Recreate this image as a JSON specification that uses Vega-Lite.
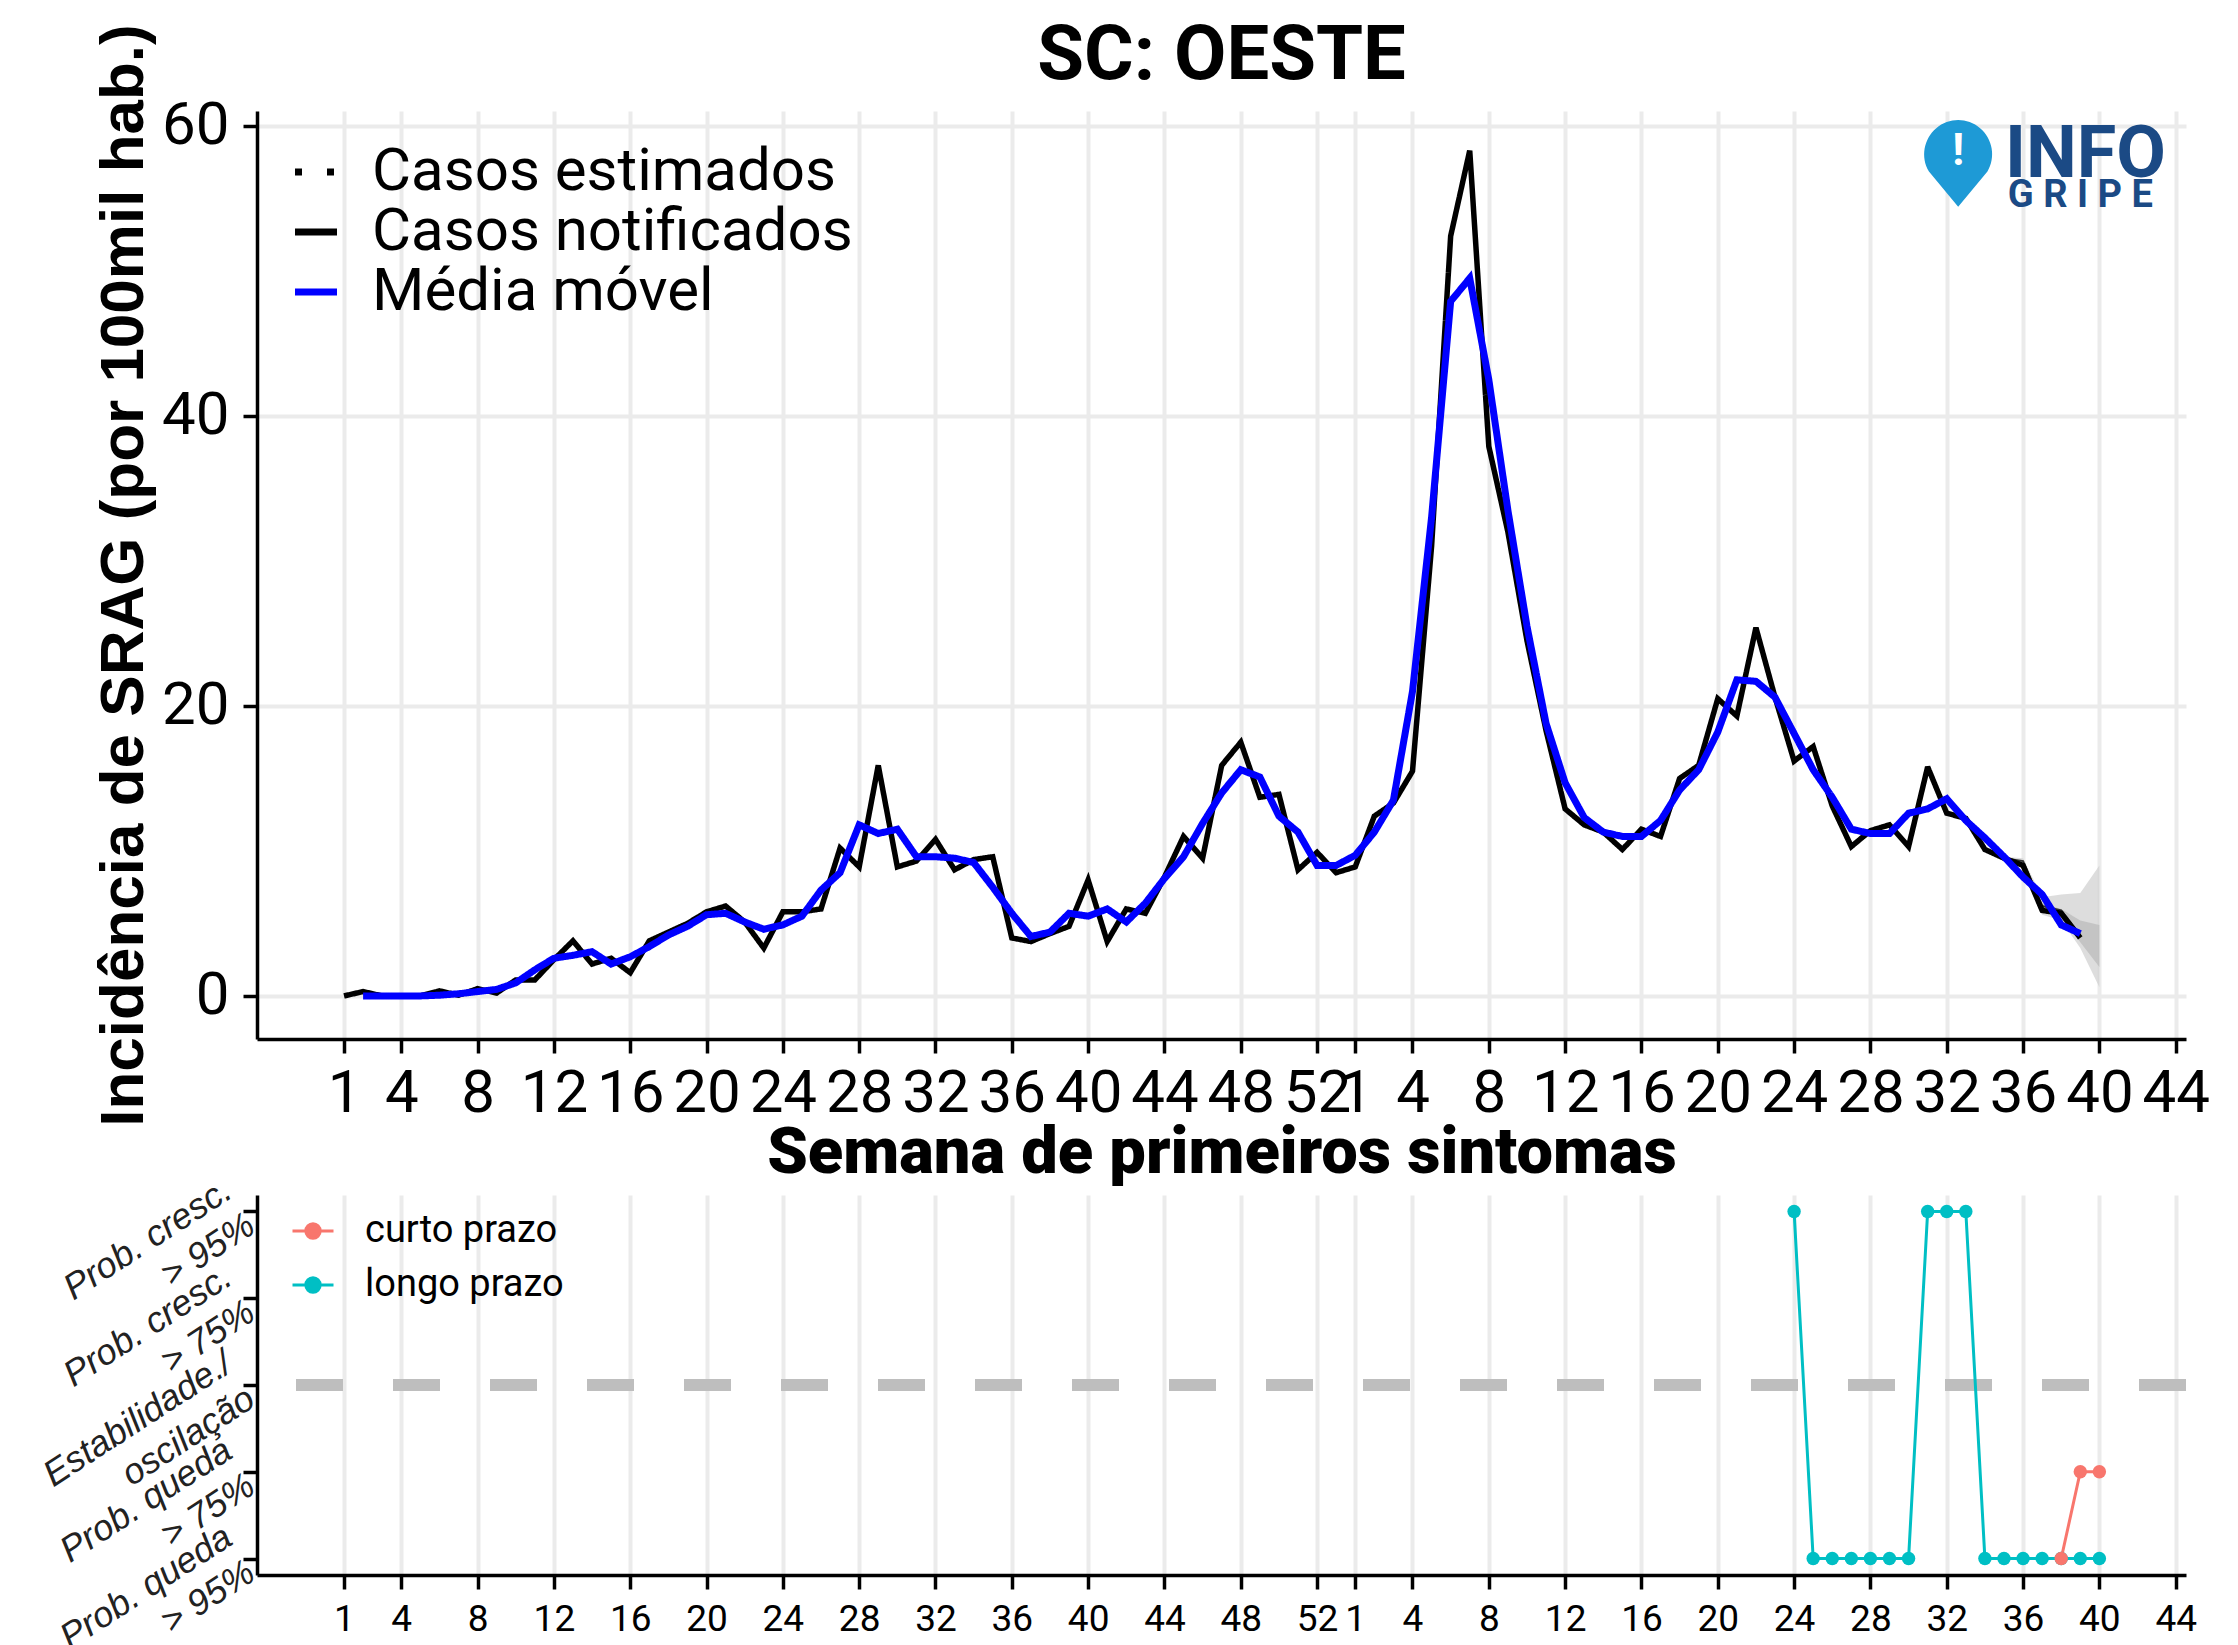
{
  "$schema": "https://vega.github.io/schema/vega-lite/v6.json",
  "background": "white",
  "autosize": {"type": "pad"},
  "padding": {"left": 36, "top": 18, "right": 0, "bottom": 0},
  "config": {
    "view": {"stroke": null},
    "font": "Roboto",
    "axis": {
      "domainColor": "black", "domainWidth": 3.5,
      "tickColor": "black", "tickWidth": 3.5, "tickSize": 14,
      "gridColor": "#EBEBEB", "gridWidth": 4,
      "labelColor": "black", "labelFont": "Roboto", "labelOverlap": false, "labelLimit": 0,
      "titleColor": "black", "titleLimit": 0
    },
    "legend": {"labelLimit": 0}
  },
  "datasets": {
    "main": [
      {"t":1,"not":0,"mm":null},{"t":2,"not":0.3,"mm":0},{"t":3,"not":0,"mm":0},{"t":4,"not":0,"mm":0},
      {"t":5,"not":0,"mm":0},{"t":6,"not":0.35,"mm":0.05},{"t":7,"not":0.05,"mm":0.15},{"t":8,"not":0.5,"mm":0.3},
      {"t":9,"not":0.2,"mm":0.45},{"t":10,"not":1.1,"mm":0.9},{"t":11,"not":1.1,"mm":1.8},{"t":12,"not":2.5,"mm":2.6},
      {"t":13,"not":3.8,"mm":2.8},{"t":14,"not":2.2,"mm":3.05},{"t":15,"not":2.6,"mm":2.2},{"t":16,"not":1.6,"mm":2.7},
      {"t":17,"not":3.8,"mm":3.4},{"t":18,"not":4.4,"mm":4.2},{"t":19,"not":5.0,"mm":4.8},{"t":20,"not":5.8,"mm":5.6},
      {"t":21,"not":6.2,"mm":5.7},{"t":22,"not":5.1,"mm":5.1},{"t":23,"not":3.3,"mm":4.6},{"t":24,"not":5.8,"mm":4.9},
      {"t":25,"not":5.8,"mm":5.5},{"t":26,"not":6.0,"mm":7.3},{"t":27,"not":10.2,"mm":8.5},{"t":28,"not":8.9,"mm":11.8},
      {"t":29,"not":15.9,"mm":11.2},{"t":30,"not":8.9,"mm":11.5},{"t":31,"not":9.3,"mm":9.6},{"t":32,"not":10.8,"mm":9.6},
      {"t":33,"not":8.7,"mm":9.5},{"t":34,"not":9.4,"mm":9.2},{"t":35,"not":9.6,"mm":7.5},{"t":36,"not":4.0,"mm":5.7},
      {"t":37,"not":3.75,"mm":4.1},{"t":38,"not":4.3,"mm":4.4},{"t":39,"not":4.8,"mm":5.7},{"t":40,"not":8.0,"mm":5.5},
      {"t":41,"not":3.75,"mm":6.0},{"t":42,"not":6.0,"mm":5.1},{"t":43,"not":5.7,"mm":6.4},{"t":44,"not":8.2,"mm":8.1},
      {"t":45,"not":11.0,"mm":9.6},{"t":46,"not":9.5,"mm":11.9},{"t":47,"not":15.9,"mm":14.0},{"t":48,"not":17.5,"mm":15.6},
      {"t":49,"not":13.7,"mm":15.1},{"t":50,"not":13.9,"mm":12.4},{"t":51,"not":8.7,"mm":11.3},{"t":52,"not":9.9,"mm":9.0},
      {"t":53,"not":8.5,"mm":9.0},{"t":54,"not":8.9,"mm":9.7},{"t":55,"not":12.4,"mm":11.3},{"t":56,"not":13.3,"mm":13.5},
      {"t":57,"not":15.5,"mm":21.0},{"t":58,"not":31.0,"mm":33.0},{"t":59,"not":52.4,"mm":47.9},{"t":60,"not":58.3,"mm":49.5},
      {"t":61,"not":37.9,"mm":42.5},{"t":62,"not":32.0,"mm":33.5},{"t":63,"not":24.5,"mm":25.5},{"t":64,"not":18.3,"mm":18.8},
      {"t":65,"not":12.9,"mm":14.7},{"t":66,"not":11.8,"mm":12.3},{"t":67,"not":11.3,"mm":11.3},{"t":68,"not":10.1,"mm":11.0},
      {"t":69,"not":11.5,"mm":11.0},{"t":70,"not":11.0,"mm":12.1},{"t":71,"not":15.0,"mm":14.2},{"t":72,"not":15.9,"mm":15.6},
      {"t":73,"not":20.5,"mm":18.2},{"t":74,"not":19.3,"mm":21.8},{"t":75,"not":25.4,"mm":21.7},{"t":76,"not":20.6,"mm":20.6},
      {"t":77,"not":16.2,"mm":18.1},{"t":78,"not":17.2,"mm":15.6},{"t":79,"not":13.1,"mm":13.7},{"t":80,"not":10.3,"mm":11.5},
      {"t":81,"not":11.4,"mm":11.2},{"t":82,"not":11.8,"mm":11.2},{"t":83,"not":10.3,"mm":12.6},{"t":84,"not":15.8,"mm":12.9},
      {"t":85,"not":12.6,"mm":13.6},{"t":86,"not":12.25,"mm":12.1},{"t":87,"not":10.1,"mm":10.9},{"t":88,"not":9.5,"mm":9.6},
      {"t":89,"not":9.0,"mm":8.2},{"t":90,"not":5.9,"mm":7.0},{"t":91,"not":5.7,"mm":4.9},{"t":92,"not":4.0,"mm":4.3}
    ],
    "est": [
      {"t":88,"est":9.5,"lo":9.4,"hi":9.6,"lo50":null,"hi50":null},
      {"t":89,"est":9.3,"lo":9.0,"hi":9.5,"lo50":null,"hi50":null},
      {"t":90,"est":6.2,"lo":5.6,"hi":6.8,"lo50":5.9,"hi50":6.4},
      {"t":91,"est":5.9,"lo":5.2,"hi":7.0,"lo50":5.4,"hi50":6.0},
      {"t":92,"est":4.2,"lo":3.3,"hi":7.1,"lo50":3.7,"hi50":5.2},
      {"t":93,"est":null,"lo":0.6,"hi":9.0,"lo50":2.0,"hi50":4.9}
    ],
    "prob": [
      {"t":77,"prazo":"longo prazo","nivel":2},{"t":78,"prazo":"longo prazo","nivel":-2},{"t":79,"prazo":"longo prazo","nivel":-2},
      {"t":80,"prazo":"longo prazo","nivel":-2},{"t":81,"prazo":"longo prazo","nivel":-2},{"t":82,"prazo":"longo prazo","nivel":-2},
      {"t":83,"prazo":"longo prazo","nivel":-2},{"t":84,"prazo":"longo prazo","nivel":2},{"t":85,"prazo":"longo prazo","nivel":2},
      {"t":86,"prazo":"longo prazo","nivel":2},{"t":87,"prazo":"longo prazo","nivel":-2},{"t":88,"prazo":"longo prazo","nivel":-2},
      {"t":89,"prazo":"longo prazo","nivel":-2},{"t":90,"prazo":"longo prazo","nivel":-2},{"t":91,"prazo":"longo prazo","nivel":-2},
      {"t":92,"prazo":"longo prazo","nivel":-2},{"t":93,"prazo":"longo prazo","nivel":-2},
      {"t":91,"prazo":"curto prazo","nivel":-2},{"t":92,"prazo":"curto prazo","nivel":-1},{"t":93,"prazo":"curto prazo","nivel":-1}
    ]
  },
  "bounds": "flush",
  "spacing": 156,
  "resolve": {
    "scale": {"y": "independent", "color": "independent", "strokeDash": "independent"},
    "legend": {"color": "independent", "strokeDash": "independent"}
  },
  "vconcat": [
    {
      "width": 1929,
      "height": 928,
      "title": {"text": "SC: OESTE", "fontSize": 76, "font": "Roboto", "fontWeight": "bold", "anchor": "middle", "frame": "group", "color": "black", "offset": -71.5},
      "layer": [
        {
          "data": {"name": "est"},
          "mark": {"type": "area", "color": "#D2D2D2", "opacity": 0.75},
          "encoding": {
            "x": {"field": "t", "type": "quantitative", "scale": {"domain": [-3.56, 97.54], "nice": false, "zero": false},
                  "axis": {"values": [1,4,8,12,16,20,24,28,32,36,40,44,48,52,54,57,61,65,69,73,77,81,85,89,93,97],
                           "labelExpr": "datum.value > 53 ? datum.value - 53 : datum.value", "labelFontSize": 60, "labelPadding": 11,
                           "title": "Semana de primeiros sintomas", "titleFont": "Roboto", "titleFontSize": 65, "titleFontWeight": 900, "titlePadding": -2}},
            "y": {"field": "lo", "type": "quantitative", "scale": {"domain": [-2.97, 61.03], "nice": false, "zero": false},
                  "axis": {"values": [0,20,40,60], "labelFontSize": 60, "labelPadding": 14,
                           "title": "Incidência de SRAG (por 100mil hab.)", "titleFont": "Liberation Sans", "titleFontSize": 62, "titleFontWeight": "bold", "titlePadding": 6}},
            "y2": {"field": "hi"}
          }
        },
        {
          "data": {"name": "est"},
          "mark": {"type": "area", "color": "#B4B4B4", "opacity": 0.6},
          "encoding": {
            "x": {"field": "t", "type": "quantitative", "scale": {"domain": [-3.56, 97.54], "nice": false, "zero": false},
                  "axis": {"values": [1,4,8,12,16,20,24,28,32,36,40,44,48,52,54,57,61,65,69,73,77,81,85,89,93,97],
                           "labelExpr": "datum.value > 53 ? datum.value - 53 : datum.value", "labelFontSize": 60, "labelPadding": 11,
                           "title": "Semana de primeiros sintomas", "titleFont": "Roboto", "titleFontSize": 65, "titleFontWeight": 900, "titlePadding": -2}},
            "y": {"field": "lo50", "type": "quantitative", "scale": {"domain": [-2.97, 61.03], "nice": false, "zero": false},
                  "axis": {"values": [0,20,40,60], "labelFontSize": 60, "labelPadding": 14,
                           "title": "Incidência de SRAG (por 100mil hab.)", "titleFont": "Liberation Sans", "titleFontSize": 62, "titleFontWeight": "bold", "titlePadding": 6}},
            "y2": {"field": "hi50"}
          }
        },
        {
          "data": {"name": "est"},
          "mark": {"type": "line", "color": "#333333", "strokeWidth": 2},
          "encoding": {
            "x": {"field": "t", "type": "quantitative", "scale": {"domain": [-3.56, 97.54], "nice": false, "zero": false},
                  "axis": {"values": [1,4,8,12,16,20,24,28,32,36,40,44,48,52,54,57,61,65,69,73,77,81,85,89,93,97],
                           "labelExpr": "datum.value > 53 ? datum.value - 53 : datum.value", "labelFontSize": 60, "labelPadding": 11,
                           "title": "Semana de primeiros sintomas", "titleFont": "Roboto", "titleFontSize": 65, "titleFontWeight": 900, "titlePadding": -2}},
            "y": {"field": "est", "type": "quantitative", "scale": {"domain": [-2.97, 61.03], "nice": false, "zero": false},
                  "axis": {"values": [0,20,40,60], "labelFontSize": 60, "labelPadding": 14,
                           "title": "Incidência de SRAG (por 100mil hab.)", "titleFont": "Liberation Sans", "titleFontSize": 62, "titleFontWeight": "bold", "titlePadding": 6}}
          }
        },
        {
          "data": {"name": "main"},
          "mark": {"type": "line", "strokeWidth": 5.5, "strokeJoin": "miter", "strokeMiterLimit": 3},
          "encoding": {
            "x": {"field": "t", "type": "quantitative", "scale": {"domain": [-3.56, 97.54], "nice": false, "zero": false},
                  "axis": {"values": [1,4,8,12,16,20,24,28,32,36,40,44,48,52,54,57,61,65,69,73,77,81,85,89,93,97],
                           "labelExpr": "datum.value > 53 ? datum.value - 53 : datum.value", "labelFontSize": 60, "labelPadding": 11,
                           "title": "Semana de primeiros sintomas", "titleFont": "Roboto", "titleFontSize": 65, "titleFontWeight": 900, "titlePadding": -2}},
            "y": {"field": "not", "type": "quantitative", "scale": {"domain": [-2.97, 61.03], "nice": false, "zero": false},
                  "axis": {"values": [0,20,40,60], "labelFontSize": 60, "labelPadding": 14,
                           "title": "Incidência de SRAG (por 100mil hab.)", "titleFont": "Liberation Sans", "titleFontSize": 62, "titleFontWeight": "bold", "titlePadding": 6}},
            "color": {
              "datum": "not", "type": "nominal",
              "scale": {"domain": ["est", "not", "mm"], "range": ["black", "black", "#0000FF"]},
              "legend": {
                "orient": "none", "legendX": 29, "legendY": 31, "title": null,
                "labelExpr": "datum.value == 'est' ? 'Casos estimados' : datum.value == 'not' ? 'Casos notificados' : 'Média móvel'",
                "labelFontSize": 60, "labelFont": "Roboto", "labelColor": "black",
                "symbolType": "stroke", "symbolSize": 1764, "symbolStrokeWidth": 7, "labelOffset": 26, "rowPadding": 0
              }
            },
            "strokeDash": {
              "datum": "not", "type": "nominal",
              "scale": {"domain": ["est", "not", "mm"], "range": [[7, 25], [1, 0], [1, 0]]},
              "legend": {
                "orient": "none", "legendX": 29, "legendY": 31, "title": null,
                "labelExpr": "datum.value == 'est' ? 'Casos estimados' : datum.value == 'not' ? 'Casos notificados' : 'Média móvel'",
                "labelFontSize": 60, "labelFont": "Roboto", "labelColor": "black",
                "symbolType": "stroke", "symbolSize": 1764, "symbolStrokeWidth": 7, "labelOffset": 26, "rowPadding": 0
              }
            }
          }
        },
        {
          "data": {"name": "main"},
          "mark": {"type": "line", "strokeWidth": 7, "strokeJoin": "miter", "strokeMiterLimit": 3},
          "encoding": {
            "x": {"field": "t", "type": "quantitative", "scale": {"domain": [-3.56, 97.54], "nice": false, "zero": false},
                  "axis": {"values": [1,4,8,12,16,20,24,28,32,36,40,44,48,52,54,57,61,65,69,73,77,81,85,89,93,97],
                           "labelExpr": "datum.value > 53 ? datum.value - 53 : datum.value", "labelFontSize": 60, "labelPadding": 11,
                           "title": "Semana de primeiros sintomas", "titleFont": "Roboto", "titleFontSize": 65, "titleFontWeight": 900, "titlePadding": -2}},
            "y": {"field": "mm", "type": "quantitative", "scale": {"domain": [-2.97, 61.03], "nice": false, "zero": false},
                  "axis": {"values": [0,20,40,60], "labelFontSize": 60, "labelPadding": 14,
                           "title": "Incidência de SRAG (por 100mil hab.)", "titleFont": "Liberation Sans", "titleFontSize": 62, "titleFontWeight": "bold", "titlePadding": 6}},
            "color": {
              "datum": "mm", "type": "nominal",
              "scale": {"domain": ["est", "not", "mm"], "range": ["black", "black", "#0000FF"]},
              "legend": {
                "orient": "none", "legendX": 29, "legendY": 31, "title": null,
                "labelExpr": "datum.value == 'est' ? 'Casos estimados' : datum.value == 'not' ? 'Casos notificados' : 'Média móvel'",
                "labelFontSize": 60, "labelFont": "Roboto", "labelColor": "black",
                "symbolType": "stroke", "symbolSize": 1764, "symbolStrokeWidth": 7, "labelOffset": 26, "rowPadding": 0
              }
            },
            "strokeDash": {
              "datum": "mm", "type": "nominal",
              "scale": {"domain": ["est", "not", "mm"], "range": [[7, 25], [1, 0], [1, 0]]},
              "legend": {
                "orient": "none", "legendX": 29, "legendY": 31, "title": null,
                "labelExpr": "datum.value == 'est' ? 'Casos estimados' : datum.value == 'not' ? 'Casos notificados' : 'Média móvel'",
                "labelFontSize": 60, "labelFont": "Roboto", "labelColor": "black",
                "symbolType": "stroke", "symbolSize": 1764, "symbolStrokeWidth": 7, "labelOffset": 26, "rowPadding": 0
              }
            }
          }
        },
        {
          "data": {"values": [{"k": 1}]},
          "mark": {"type": "point", "shape": "M0,1L-0.68,0.18A0.79,0.79,0,1,1,0.68,0.18Z", "filled": true, "color": "#1E9AD6", "opacity": 1, "size": 7400},
          "encoding": {"x": {"datum": 85.6, "type": "quantitative"}, "y": {"datum": 57.4, "type": "quantitative"}}
        },
        {
          "data": {"values": [{"k": 1}]},
          "mark": {"type": "text", "text": "!", "color": "white", "fontSize": 44, "fontWeight": "bold", "font": "Roboto", "baseline": "middle", "align": "center"},
          "encoding": {"x": {"datum": 85.6, "type": "quantitative"}, "y": {"datum": 58.2, "type": "quantitative"}}
        },
        {
          "data": {"values": [{"k": 1}]},
          "mark": {"type": "text", "text": "INFO", "color": "#1B4A85", "fontSize": 72, "fontWeight": "bold", "font": "Roboto", "baseline": "alphabetic", "align": "left"},
          "encoding": {"x": {"datum": 88.05, "type": "quantitative"}, "y": {"datum": 56.5, "type": "quantitative"}}
        },
        {
          "data": {"values": [{"k": 1}]},
          "mark": {"type": "text", "text": "G R I P E", "color": "#1B4A85", "fontSize": 38, "fontWeight": "bold", "font": "Roboto", "baseline": "alphabetic", "align": "left"},
          "encoding": {"x": {"datum": 88.2, "type": "quantitative"}, "y": {"datum": 54.4, "type": "quantitative"}}
        }
      ]
    },
    {
      "width": 1929,
      "height": 380,
      "layer": [
        {
          "data": {"values": [{"k": 1}]},
          "mark": {"type": "rule", "color": "#BEBEBE", "strokeWidth": 12, "strokeDash": [47, 50]},
          "encoding": {"y": {"datum": 0, "type": "quantitative", "scale": {"domain": [-2.19, 2.19], "nice": false, "zero": false}}}
        },
        {
          "data": {"name": "prob"},
          "mark": {"type": "line", "strokeWidth": 3, "point": {"filled": true, "size": 180}},
          "encoding": {
            "x": {
              "field": "t", "type": "quantitative",
              "scale": {"domain": [-3.56, 97.54], "nice": false, "zero": false},
              "axis": {
                "values": [1,4,8,12,16,20,24,28,32,36,40,44,48,52,54,57,61,65,69,73,77,81,85,89,93,97],
                "labelExpr": "datum.value > 53 ? datum.value - 53 : datum.value",
                "labelFontSize": 37, "labelPadding": 12, "title": null
              }
            },
            "y": {
              "field": "nivel", "type": "quantitative",
              "scale": {"domain": [-2.19, 2.19], "nice": false, "zero": false},
              "axis": {
                "values": [-2, -1, 0, 1, 2],
                "labelExpr": "datum.value == 2 ? ['Prob. cresc.', '> 95%'] : datum.value == 1 ? ['Prob. cresc.', '> 75%'] : datum.value == 0 ? ['Estabilidade./', 'oscilação'] : datum.value == -1 ? ['Prob. queda', '> 75%'] : ['Prob. queda', '> 95%']",
                "labelAngle": -33, "labelAlign": "right", "labelBaseline": "middle",
                "labelFont": "Liberation Sans", "labelFontStyle": "italic", "labelFontSize": 36, "labelLineHeight": 42,
                "labelColor": "#222222", "labelPadding": 15, "labelOffset": -25, "title": null
              }
            },
            "color": {
              "field": "prazo", "type": "nominal",
              "scale": {"domain": ["curto prazo", "longo prazo"], "range": ["#F8766D", "#00BFC4"]},
              "legend": {
                "orient": "none", "legendX": 34, "legendY": 14, "title": null,
                "labelFontSize": 38, "labelFont": "Roboto", "labelColor": "black",
                "symbolType": "M-1,0L1,0M-0.35,0A0.35,0.35,0,1,0,0.35,0A0.35,0.35,0,1,0,-0.35,0Z",
                "symbolSize": 1681, "symbolStrokeWidth": 3, "labelOffset": 30, "rowPadding": 13
              }
            }
          }
        }
      ]
    }
  ]
}
